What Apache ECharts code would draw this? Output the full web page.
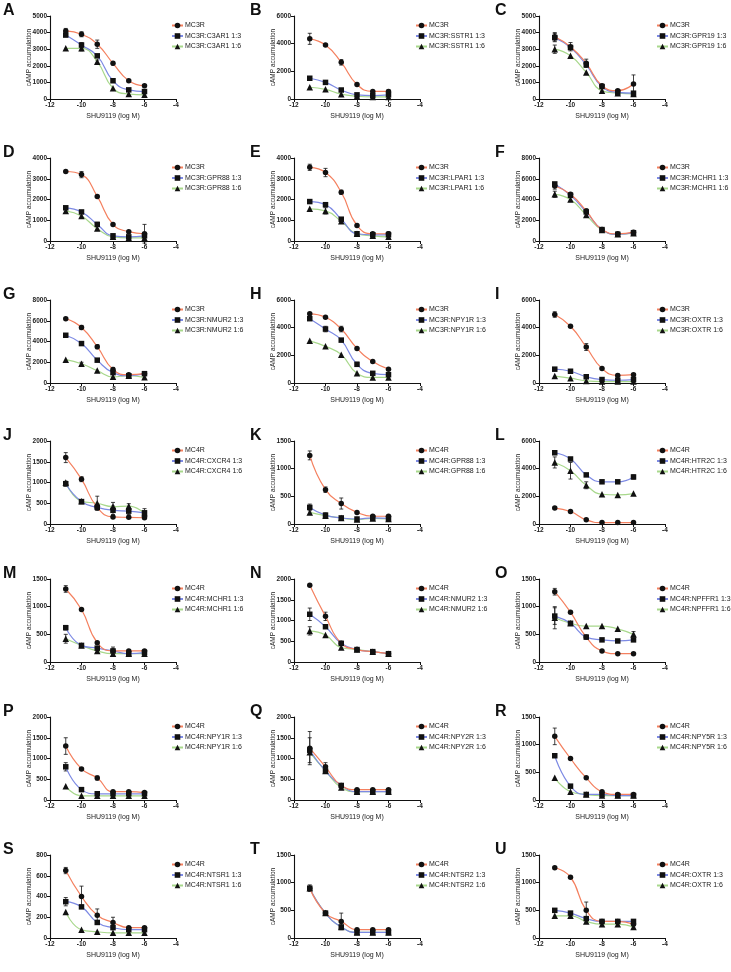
<!DOCTYPE html>
<html>
<head>
<meta charset="utf-8">
<script src="https://cdn.jsdelivr.net/npm/echarts@6/dist/echarts.min.js"></script>
<style>
  html, body { margin: 0; padding: 0; background: #fff; }
  #main { width: 731px; height: 972px; }
</style>
</head>
<body>
<div id="main"></div>
<script>
// panel letters and the co-expressed receptor in each panel
var letters = ['A','B','C','D','E','F','G','H','I','J','K','L','M','N','O','P','Q','R','S','T','U'];
var partners = ['C3AR1','SSTR1','GPR19','GPR88','LPAR1','MCHR1','NMUR2','NPY1R','OXTR',
                'CXCR4','GPR88','HTR2C','MCHR1','NMUR2','NPFFR1','NPY1R','NPY2R','NPY5R','NTSR1','NTSR2','OXTR'];
var receptors = ['MC3R','MC3R','MC3R','MC3R','MC3R','MC3R','MC3R','MC3R','MC3R',
                 'MC4R','MC4R','MC4R','MC4R','MC4R','MC4R','MC4R','MC4R','MC4R','MC4R','MC4R','MC4R'];
var yMax  = [5000,6000,5000,4000,4000,8000,8000,6000,6000,2000,1500,6000,1500,2000,1500,2000,2000,1500,800,1500,1500];
var yStep = [1000,2000,1000,1000,1000,2000,2000,2000,2000,500,500,2000,500,500,500,500,500,500,200,500,500];
var xTicks = [-12, -4, 2];   // min, max, interval
var doses = [-11, -10, -9, -8, -7, -6];

// receptor alone
var refMeans = [
  [4100,3900,3300,2150,1100,800],
  [4350,3900,2650,1050,550,550],
  [3750,3150,2150,800,500,900],
  [3350,3200,2150,800,450,350],
  [3550,3300,2350,750,350,350],
  [5300,4500,2900,1100,700,850],
  [6200,5350,3500,1300,800,900],
  [5000,4750,3900,2500,1550,1000],
  [4950,4100,2600,1050,550,600],
  [1600,1080,400,170,160,150],
  [1240,620,370,210,140,140],
  [1150,900,300,100,100,100],
  [1320,950,350,200,200,200],
  [1850,1100,450,300,250,200],
  [1270,900,450,200,150,150],
  [1300,750,530,200,200,180],
  [1250,800,350,250,250,250],
  [1150,750,400,150,100,100],
  [650,400,220,150,100,100],
  [900,450,300,150,150,150],
  [1270,1100,500,300,300,250]
];
var refErr = [
  [150,150,250,100,0,0],[400,0,200,0,0,100],[250,250,250,0,0,550],[0,150,0,0,0,450],
  [150,200,100,0,0,100],[300,0,200,0,0,0],[0,200,200,200,0,0],[0,0,200,0,0,0],
  [200,0,250,0,100,0],[120,60,60,0,0,0],[80,50,100,0,0,0],[0,0,0,0,0,0],
  [60,0,0,70,0,0],[0,100,0,0,0,0],[60,0,0,0,0,0],[200,0,50,0,0,0],
  [400,100,0,0,0,0],[150,0,0,0,0,0],[30,100,60,50,0,0],[60,0,150,0,0,0],[0,0,150,0,0,0]
];

// 1:3 co-transfection
var mix13Means = [
  [3850,3250,2600,1100,550,450],
  [1500,1200,650,300,250,300],
  [3700,3100,2050,750,400,350],
  [1600,1400,800,250,200,250],
  [1900,1750,1050,350,300,300],
  [5500,4400,2800,1100,650,800],
  [4600,3800,2200,1000,700,900],
  [4650,3900,3100,1350,700,600],
  [1000,850,450,250,200,250],
  [970,540,400,330,310,270],
  [300,160,110,90,110,100],
  [5150,4700,3550,3050,3050,3400],
  [620,300,250,200,150,170],
  [1150,850,450,300,250,200],
  [830,700,450,400,380,400],
  [800,250,150,150,150,150],
  [1200,700,350,200,200,200],
  [800,250,100,100,80,80],
  [350,300,150,100,80,80],
  [900,450,200,100,100,100],
  [500,450,350,300,300,300]
];
var mix13Err = [
  [0,150,0,0,0,0],[0,0,0,0,0,0],[250,0,0,0,0,0],[0,0,100,0,0,0],
  [0,100,0,0,0,0],[0,0,0,0,0,0],[0,0,0,0,0,0],[0,200,0,150,0,0],
  [0,0,100,0,0,0],[60,0,0,100,80,100],[60,40,0,0,0,0],[0,0,0,0,0,150],
  [40,0,0,0,0,0],[150,0,0,0,0,0],[150,0,0,0,0,0],[100,0,0,0,0,0],
  [300,0,0,0,0,0],[0,0,0,0,0,0],[40,0,0,0,0,0],[0,0,0,0,0,0],[0,0,0,0,0,0]
];

// 1:6 co-transfection
var mix16Means = [
  [3050,3050,2250,650,300,250],
  [850,700,350,200,150,150],
  [3000,2600,1600,500,350,300],
  [1450,1200,600,200,150,150],
  [1550,1450,950,350,250,200],
  [4500,4000,2500,1050,650,750],
  [2250,1850,1200,600,700,550],
  [3050,2650,2050,700,400,400],
  [500,350,150,100,100,100],
  [1000,550,500,420,430,260],
  [210,150,110,80,100,90],
  [4450,3850,2800,2150,2100,2200],
  [420,300,200,150,150,150],
  [750,650,350,300,250,200],
  [800,700,650,650,600,500],
  [330,100,100,100,100,100],
  [1150,700,300,200,200,200],
  [400,150,100,80,80,80],
  [250,80,60,50,50,50],
  [900,450,200,100,100,100],
  [400,400,300,250,250,200]
];
var mix16Err = [
  [0,150,100,0,0,0],[0,0,0,0,0,0],[250,0,0,0,0,0],[0,0,0,0,0,0],
  [0,150,0,0,0,0],[300,200,0,0,0,0],[0,150,0,0,0,0],[0,0,0,0,0,0],
  [0,0,0,0,0,0],[0,0,170,100,60,0],[0,0,0,0,0,0],[400,600,250,0,0,0],
  [80,0,0,0,0,0],[100,0,0,0,0,0],[200,0,0,0,0,50],[0,0,0,0,0,0],
  [0,0,0,0,0,0],[0,0,0,0,0,0],[0,0,0,0,0,0],[0,0,0,0,0,0],[0,0,0,0,0,0]
];

// layout
var colLeft = [50, 294, 539];
var letterLeft = [3, 250, 495];
var legendShift = [0, 0, -4];
var rowTop = [16, 158, 300, 441, 579, 717, 855];
var plotW = 126, plotH = 83;
var lineColors = ['#F4805F', '#7D8AE4', '#A8D88C'];
var symbols = ['circle', 'rect', 'triangle'];
var FONT = '"Liberation Sans", Arial, sans-serif';

var chart = echarts.init(document.getElementById('main'), null, {renderer: 'canvas'});

function errorBar(params, api) {
  var x = api.value(0);
  var lo = api.coord([x, api.value(1)]);
  var hi = api.coord([x, api.value(2)]);
  var cap = 2;
  var st = {stroke: '#111', lineWidth: 0.8};
  return {
    type: 'group',
    children: [
      {type: 'line', shape: {x1: hi[0], y1: hi[1], x2: lo[0], y2: lo[1]}, style: st},
      {type: 'line', shape: {x1: hi[0] - cap, y1: hi[1], x2: hi[0] + cap, y2: hi[1]}, style: st},
      {type: 'line', shape: {x1: lo[0] - cap, y1: lo[1], x2: lo[0] + cap, y2: lo[1]}, style: st}
    ]
  };
}

var grids = [], xAxes = [], yAxes = [], series = [], legends = [], graphics = [];

letters.forEach(function (letter, k) {
  var row = Math.floor(k / 3), col = k % 3;
  var left = colLeft[col], top = rowTop[row];

  grids.push({left: left, top: top, width: plotW, height: plotH});

  xAxes.push({
    type: 'value', gridIndex: k,
    min: xTicks[0], max: xTicks[1], interval: xTicks[2],
    name: 'SHU9119 (log M)', nameLocation: 'middle', nameGap: 14, nameMoveOverlap: false,
    nameTextStyle: {fontSize: 7, color: '#222', fontFamily: FONT},
    axisLine: {onZero: false, lineStyle: {color: '#111', width: 1.1}},
    axisTick: {length: 3, lineStyle: {color: '#111', width: 1}},
    axisLabel: {fontSize: 6.5, fontWeight: 'bold', color: '#222', margin: 3, fontFamily: FONT},
    splitLine: {show: false}
  });

  yAxes.push({
    type: 'value', gridIndex: k,
    min: 0, max: yMax[k], interval: yStep[k],
    name: 'cAMP accumulation', nameLocation: 'middle', nameGap: 17, nameMoveOverlap: false,
    nameTextStyle: {fontSize: 6.5, color: '#222', fontFamily: FONT},
    axisLine: {show: true, lineStyle: {color: '#111', width: 1.1}},
    axisTick: {show: true, length: 3, lineStyle: {color: '#111', width: 1}},
    axisLabel: {
      fontSize: 6.5, fontWeight: 'bold', color: '#222', margin: 3, fontFamily: FONT,
      formatter: function (v) { return String(v); }
    },
    splitLine: {show: false}
  });

  var names = [receptors[k], receptors[k] + ':' + partners[k] + ' 1:3', receptors[k] + ':' + partners[k] + ' 1:6'];
  var means = [refMeans[k], mix13Means[k], mix16Means[k]];
  var errs = [refErr[k], mix13Err[k], mix16Err[k]];

  // draw 1:6 first so the reference curve sits on top
  [2, 1, 0].forEach(function (g) {
    var bars = [];
    doses.forEach(function (d, j) {
      if (errs[g][j] > 0) bars.push([d, means[g][j] - errs[g][j], means[g][j] + errs[g][j]]);
    });
    series.push({
      type: 'custom', xAxisIndex: k, yAxisIndex: k,
      renderItem: errorBar, data: bars, z: 2, silent: true,
      encode: {x: 0, y: [1, 2]}
    });
    series.push({
      name: names[g], type: 'line', xAxisIndex: k, yAxisIndex: k,
      data: doses.map(function (d, j) { return [d, means[g][j]]; }),
      smooth: 0.5, symbol: symbols[g], symbolSize: g === 2 ? 6.5 : 5.5,
      itemStyle: {color: '#111'},
      lineStyle: {color: lineColors[g], width: 1.2},
      z: 3, animation: false
    });
  });

  legends.push({
    data: names, orient: 'vertical', left: left + plotW - 10 + legendShift[col], top: top + 1,
    itemWidth: 11, itemHeight: 7, itemGap: 3.5, selectedMode: false,
    textStyle: {fontSize: 7, color: '#222', fontFamily: FONT, padding: [0, 0, 0, -3]}
  });

  graphics.push({
    type: 'text', left: letterLeft[col], top: top - 13,
    style: {text: letter, fontSize: 16, fontWeight: 'bold', fontFamily: FONT, fill: '#111'}
  });
});

var option = {
  backgroundColor: '#fff',
  animation: false,
  grid: grids,
  xAxis: xAxes,
  yAxis: yAxes,
  legend: legends,
  graphic: graphics,
  series: series
};

chart.setOption(option);
</script>
</body>
</html>
